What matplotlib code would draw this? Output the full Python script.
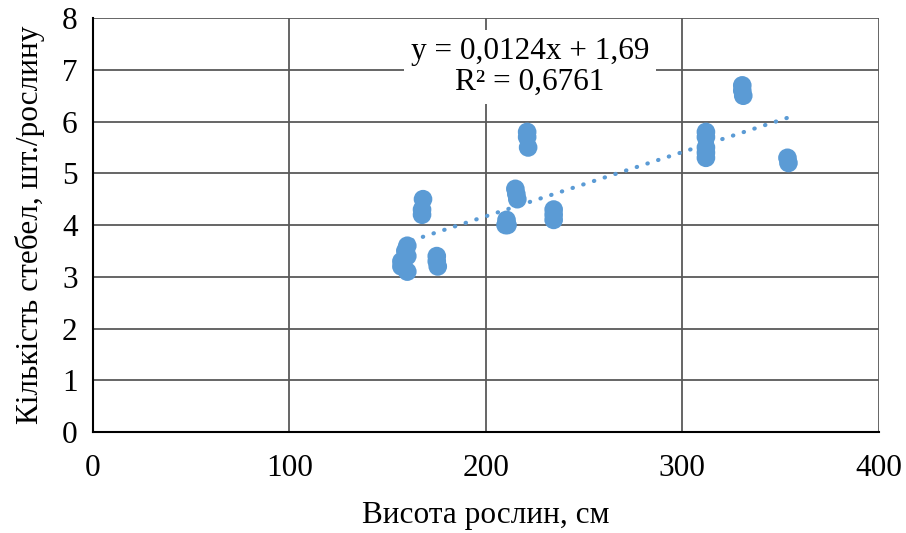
import matplotlib
matplotlib.use("Agg")
import matplotlib.pyplot as plt
import numpy as np

plt.rcParams['font.family'] = ['Liberation Serif', 'DejaVu Serif']

# Data
height_cm = [157, 157, 159, 160, 160, 160,
             167.5, 167.5, 168,
             175, 175, 175.5,
             210, 210.5, 211,
             215, 215.5, 216,
             221, 221, 221.5,
             234.5, 234.5, 234.5,
             312, 312, 312, 312, 312,
             330.5, 330.5, 331,
             353.5, 354]
stems = [3.3, 3.2, 3.5, 3.6, 3.4, 3.1,
         4.2, 4.3, 4.5,
         3.4, 3.3, 3.2,
         4.0, 4.1, 4.0,
         4.7, 4.6, 4.5,
         5.8, 5.7, 5.5,
         4.3, 4.2, 4.1,
         5.8, 5.7, 5.5, 5.4, 5.3,
         6.7, 6.6, 6.5,
         5.3, 5.2]
slope, intercept = 0.0124, 1.69
eq_text = "y = 0,0124x + 1,69\nR² = 0,6761"
x_ticks = [0, 100, 200, 300, 400]
y_ticks = [0, 1, 2, 3, 4, 5, 6, 7, 8]

color = '#5B9BD5'
fs = 22.5

fig = plt.figure(figsize=(9.06, 5.33), dpi=100)
ax = fig.add_axes([0.1026, 0.1895, 0.8674, 0.7765])

ax.set_xlim(0, 400)
ax.set_ylim(0, 8)
ax.set_xticks(x_ticks)
ax.set_yticks(y_ticks)
ax.grid(True, color='#595959', linewidth=1.3, zorder=0)
ax.set_axisbelow(True)

xs = np.array([min(height_cm), max(height_cm)])
ax.plot(xs, slope * xs + intercept, color=color, linewidth=3.0,
        linestyle=(0, (0.1, 2.6)), dash_capstyle='round', zorder=2)
ax.scatter(height_cm, stems, s=180, color=color, edgecolors='none', zorder=3)

for side in ['top', 'right']:
    ax.spines[side].set_visible(False)
ax.spines['left'].set_color('black')
ax.spines['bottom'].set_color('black')
ax.spines['left'].set_linewidth(1.5)
ax.spines['bottom'].set_linewidth(1.5)
ax.tick_params(length=0, labelsize=fs)
ax.tick_params(axis='x', pad=16)
ax.tick_params(axis='y', pad=11)

ax.set_xlabel('Висота рослин, см', fontsize=fs, labelpad=13)
ax.set_ylabel('Кількість стебел, шт./рослину', fontsize=fs, labelpad=12)

ax.text(222.5, 7.06, eq_text, fontsize=fs, ha='center', va='center',
        linespacing=1.1,
        bbox=dict(facecolor='white', edgecolor='none', pad=5), zorder=4)

fig.savefig('out.png', dpi=100)
